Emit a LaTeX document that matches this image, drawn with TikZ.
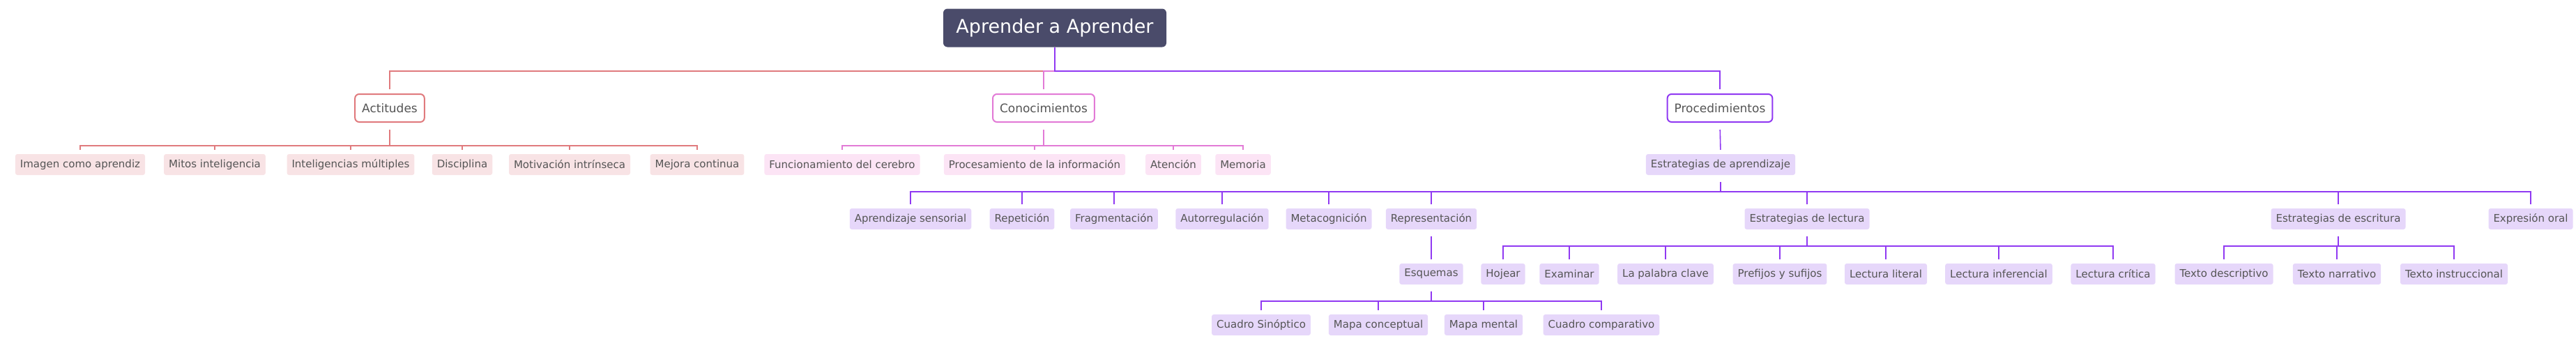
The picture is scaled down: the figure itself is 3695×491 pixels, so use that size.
\documentclass[tikz,border=0pt]{standalone}
\usepackage{fontspec}
\setmainfont{DejaVu Sans}
\usetikzlibrary{positioning}
\definecolor{titlebg}{HTML}{4A4B6A}
\definecolor{actline}{HTML}{E07A7D}
\definecolor{actfill}{HTML}{F8E3E5}
\definecolor{conline}{HTML}{E27AD6}
\definecolor{confill}{HTML}{FCE4F5}
\definecolor{proline}{HTML}{9039F2}
\definecolor{profill}{HTML}{E6D7FA}
\definecolor{txt}{HTML}{555555}
\tikzset{
  leaf/.style={rounded corners=3pt, inner xsep=7pt, minimum height=30pt,
    font=\fontsize{15}{17}\selectfont, text=txt},
  act/.style={leaf, fill=actfill},
  con/.style={leaf, fill=confill},
  pro/.style={leaf, fill=profill},
  branch/.style={leaf, draw, line width=2pt, fill=white, rounded corners=6pt,
    minimum height=40pt, inner xsep=10pt, font=\fontsize{17}{19}\selectfont},
  edge/.style={line width=1.6pt, shorten >=6pt},
}
\begin{document}
\begin{tikzpicture}[x=1pt,y=1pt]
\useasboundingbox (0,0) rectangle (3695,-491);
% root
\node[fill=titlebg, text=white, rounded corners=6pt, minimum width=320pt,
  minimum height=55pt, font=\fontsize{27}{30}\selectfont] (root) at (1513,-40) {Aprender a Aprender};
% first level
\node[branch, draw=actline] (act) at (559,-155) {Actitudes};
\node[branch, draw=conline] (con) at (1497,-155) {Conocimientos};
\node[branch, draw=proline] (pro) at (2467,-155) {Procedimientos};
\draw[edge, actline, line width=2.4pt] (root.south) -- ++(0,-34) -| (act.north);
\draw[edge, conline] (root.south) -- ++(0,-34) -| (con.north);
\draw[edge, proline, line width=2.4pt] (root.south) -- ++(0,-34) -| (pro.north);
% Actitudes
\foreach \n/\x/\t in {a1/115/Imagen como aprendiz, a2/308/Mitos inteligencia,
  a3/503/Inteligencias múltiples, a4/663/Disciplina,
  a5/817/Motivación intrínseca, a6/1000/Mejora continua}{
  \node[act] (\n) at (\x,-236) {\t};
  \draw[edge, actline, shorten <=10pt] (act.south) -- ++(0,-33) -| (\n.north);
}
% Conocimientos
\foreach \n/\x/\t in {c1/1208/Funcionamiento del cerebro,
  c2/1484/Procesamiento de la información, c3/1683/Atención, c4/1783/Memoria}{
  \node[con] (\n) at (\x,-236) {\t};
  \draw[edge, conline, shorten <=10pt] (con.south) -- ++(0,-33) -| (\n.north);
}
% Procedimientos
\node[pro] (est) at (2468,-236) {Estrategias de aprendizaje};
\draw[edge, proline, shorten <=10pt] (pro.south) -- (est.north);
\foreach \n/\x/\t in {e1/1306/Aprendizaje sensorial, e2/1466/Repetición,
  e3/1598/Fragmentación, e4/1753/Autorregulación, e5/1906/Metacognición,
  e6/2053/Representación, e7/2592/Estrategias de lectura,
  e8/3354/Estrategias de escritura, e9/3630/Expresión oral}{
  \node[pro] (\n) at (\x,-314) {\t};
  \draw[edge, proline, shorten <=10pt] (est.south) -- ++(0,-24) -| (\n.north);
}
% Representacion
\node[pro] (esq) at (2053,-393) {Esquemas};
\draw[edge, proline, shorten <=10pt] (e6.south) -- (esq.north);
\foreach \n/\x/\t in {r1/1809/Cuadro Sinóptico, r2/1977/Mapa conceptual,
  r3/2128/Mapa mental, r4/2297/Cuadro comparativo}{
  \node[pro] (\n) at (\x,-466) {\t};
  \draw[edge, proline, shorten <=10pt] (esq.south) -- ++(0,-24) -| (\n.north);
}
% Lectura
\foreach \n/\x/\t in {l1/2156/Hojear, l2/2251/Examinar, l3/2389/La palabra clave,
  l4/2553/Prefijos y sufijos, l5/2705/Lectura literal,
  l6/2867/Lectura inferencial, l7/3031/Lectura crítica}{
  \node[pro] (\n) at (\x,-393) {\t};
  \draw[edge, proline, shorten <=10pt] (e7.south) -- ++(0,-24) -| (\n.north);
}
% Escritura
\foreach \n/\x/\t in {w1/3190/Texto descriptivo, w2/3352/Texto narrativo,
  w3/3520/Texto instruccional}{
  \node[pro] (\n) at (\x,-393) {\t};
  \draw[edge, proline, shorten <=10pt] (e8.south) -- ++(0,-24) -| (\n.north);
}
\end{tikzpicture}
\end{document}
